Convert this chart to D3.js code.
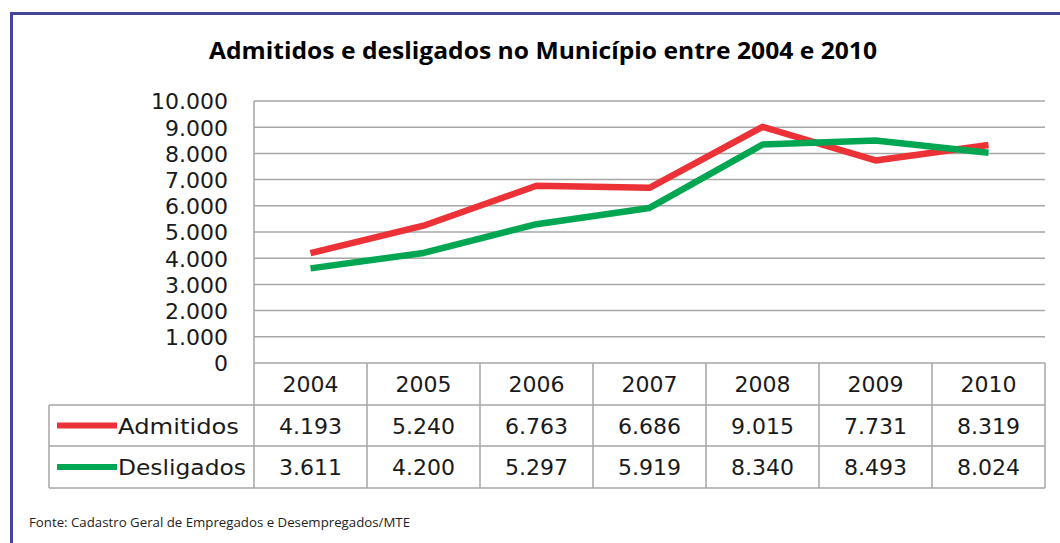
<!DOCTYPE html>
<html><head><meta charset="utf-8">
<script src="https://cdn.jsdelivr.net/npm/d3@7"></script>
<style>html,body{margin:0;padding:0;background:#fff;}svg{display:block;}</style>
</head><body><svg id="c" width="1060" height="543"></svg>
<script>
const years = ["2004","2005","2006","2007","2008","2009","2010"];
const admitidos = [4193, 5240, 6763, 6686, 9015, 7731, 8319];
const desligados = [3611, 4200, 5297, 5919, 8340, 8493, 8024];
const yTicks = [0,1000,2000,3000,4000,5000,6000,7000,8000,9000,10000];
const seriesNames = ["Admitidos","Desligados"];
const seriesColors = ["#ec3237","#00a651"];
const title = "Admitidos e desligados no Município entre 2004 e 2010";
const source = "Fonte: Cadastro Geral de Empregados e Desempregados/MTE";

(function(){
const svg = d3.select("#c");
const fmt = v => d3.format(",")(v).replace(/,/g,".");
const pLeft = 254, pRight = 1045, pTop = 101, pBottom = 363;
const legLeft = 49;
const rowBounds = [363, 405, 446, 488];
const grid = "#a6a6a6";
const numFont = "'DejaVu Sans', Verdana, sans-serif";
const fs = 22;

// border
svg.append("path").attr("d","M11.5,543 L11.5,13.5 L1060,13.5")
  .attr("fill","none").attr("stroke","#45459a").attr("stroke-width",3);

svg.append("text").attr("x",543).attr("y",59).attr("text-anchor","middle")
  .attr("font-family","'Open Sans', sans-serif").attr("font-weight","bold")
  .attr("font-size",23).attr("textLength",668).attr("lengthAdjust","spacingAndGlyphs")
  .attr("fill","#000").text(title);

const x = d3.scaleBand().domain(years).range([pLeft,pRight]).padding(0);
const y = d3.scaleLinear().domain([0,10000]).range([pBottom,pTop]);

// gridlines
svg.append("g").selectAll("line").data(yTicks.filter(d=>d>0)).join("line")
  .attr("x1",pLeft).attr("x2",pRight).attr("y1",d=>y(d)).attr("y2",d=>y(d))
  .attr("stroke",grid).attr("stroke-width",1.5);

// y axis
const yAxis = d3.axisLeft(y).tickValues(yTicks).tickFormat(fmt).tickSize(0).tickPadding(0);
const ga = svg.append("g").attr("transform",`translate(228,0)`).call(yAxis);
ga.select(".domain").remove();
ga.selectAll("text").attr("font-family",numFont).attr("font-size",fs).attr("fill","#1a1a1a").attr("dy","0.36em");

// axis line (left)
svg.append("line").attr("x1",pLeft).attr("x2",pLeft).attr("y1",pTop).attr("y2",rowBounds[3])
  .attr("stroke",grid).attr("stroke-width",1.5);

// table lines
const tbl = svg.append("g").attr("stroke",grid).attr("stroke-width",1.5);
tbl.append("line").attr("x1",pLeft).attr("x2",pRight).attr("y1",rowBounds[0]).attr("y2",rowBounds[0]);
for (let i=1;i<4;i++) tbl.append("line").attr("x1",legLeft).attr("x2",pRight).attr("y1",rowBounds[i]).attr("y2",rowBounds[i]);
tbl.append("line").attr("x1",legLeft).attr("x2",legLeft).attr("y1",rowBounds[1]).attr("y2",rowBounds[3]);
tbl.selectAll(".v").data(years).join("line")
  .attr("x1",d=>x(d)+x.bandwidth()).attr("x2",d=>x(d)+x.bandwidth())
  .attr("y1",rowBounds[0]).attr("y2",rowBounds[3]);

const txt = svg.append("g").attr("font-family",numFont).attr("font-size",fs).attr("fill","#1a1a1a").attr("text-anchor","middle");
txt.selectAll(".yr").data(years).join("text")
  .attr("x",d=>x(d)+x.bandwidth()/2).attr("y",(rowBounds[0]+rowBounds[1])/2+8).text(d=>d);
[admitidos,desligados].forEach((vals,si)=>{
  txt.append("g").selectAll("text").data(vals).join("text")
    .attr("x",(d,i)=>x(years[i])+x.bandwidth()/2)
    .attr("y",(rowBounds[si+1]+rowBounds[si+2])/2+8).text(d=>fmt(d));
  const cy = (rowBounds[si+1]+rowBounds[si+2])/2;
  svg.append("line").attr("x1",57).attr("x2",117).attr("y1",cy).attr("y2",cy)
    .attr("stroke",seriesColors[si]).attr("stroke-width",6);
  svg.append("text").attr("x",118).attr("y",cy+8).attr("font-family",numFont).attr("font-size",fs)
    .attr("fill","#1a1a1a").attr("textLength",si===0?121:128).attr("lengthAdjust","spacingAndGlyphs").text(seriesNames[si]);
});

// lines
const line = d3.line().x((d,i)=>x(years[i])+x.bandwidth()/2).y(d=>y(d));
[admitidos,desligados].forEach((vals,si)=>{
  svg.append("path").datum(vals).attr("d",line).attr("fill","none")
    .attr("stroke",seriesColors[si]).attr("stroke-width",6.5).attr("stroke-linejoin","round");
});

svg.append("text").attr("x",29).attr("y",527).attr("font-family","'Open Sans', sans-serif")
  .attr("font-size",13.5).attr("fill","#222").attr("textLength",381).attr("lengthAdjust","spacingAndGlyphs").text(source);
})();
</script></body></html>
